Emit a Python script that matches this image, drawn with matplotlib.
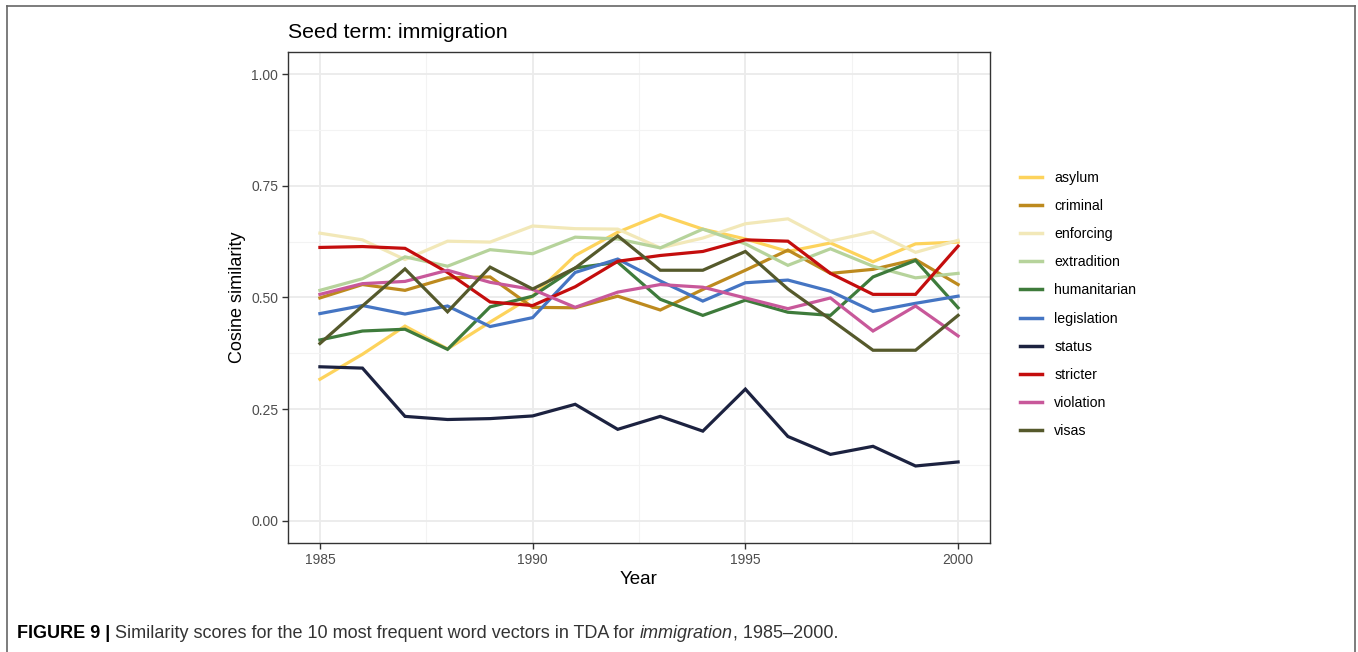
import matplotlib
matplotlib.use("Agg")
import matplotlib.pyplot as plt
from matplotlib.lines import Line2D
import numpy as np

plt.rcParams['font.family'] = ['Liberation Sans', 'DejaVu Sans']

years = list(range(1985, 2001))

asylum       = [0.317, 0.373, 0.436, 0.385, 0.445, 0.503, 0.594, 0.646, 0.685, 0.653, 0.631, 0.603, 0.622, 0.580, 0.620, 0.624]
criminal     = [0.499, 0.529, 0.516, 0.544, 0.546, 0.478, 0.477, 0.503, 0.472, 0.518, 0.561, 0.606, 0.554, 0.563, 0.585, 0.529]
enforcing    = [0.644, 0.629, 0.585, 0.626, 0.624, 0.660, 0.654, 0.653, 0.611, 0.633, 0.665, 0.676, 0.626, 0.647, 0.601, 0.628]
extradition  = [0.516, 0.542, 0.591, 0.570, 0.607, 0.598, 0.635, 0.631, 0.611, 0.653, 0.620, 0.572, 0.609, 0.570, 0.544, 0.554]
humanitarian = [0.405, 0.425, 0.429, 0.384, 0.479, 0.503, 0.566, 0.579, 0.496, 0.460, 0.494, 0.467, 0.460, 0.546, 0.583, 0.477]
legislation  = [0.464, 0.482, 0.463, 0.481, 0.435, 0.455, 0.556, 0.586, 0.537, 0.492, 0.533, 0.539, 0.514, 0.469, 0.487, 0.503]
status       = [0.345, 0.342, 0.234, 0.227, 0.229, 0.235, 0.261, 0.205, 0.234, 0.201, 0.295, 0.189, 0.149, 0.167, 0.123, 0.132]
stricter     = [0.612, 0.614, 0.610, 0.556, 0.490, 0.482, 0.524, 0.581, 0.594, 0.603, 0.629, 0.626, 0.554, 0.507, 0.507, 0.615]
violation    = [0.507, 0.531, 0.536, 0.561, 0.534, 0.518, 0.478, 0.512, 0.529, 0.523, 0.499, 0.475, 0.499, 0.425, 0.481, 0.414]
visas        = [0.397, 0.481, 0.564, 0.468, 0.568, 0.519, 0.566, 0.638, 0.561, 0.561, 0.603, 0.519, 0.451, 0.382, 0.382, 0.460]

terms = ["asylum", "criminal", "enforcing", "extradition", "humanitarian",
         "legislation", "status", "stricter", "violation", "visas"]
series = [asylum, criminal, enforcing, extradition, humanitarian,
          legislation, status, stricter, violation, visas]
colors = ["#FDD35C", "#BD8A1E", "#F2E8B8", "#B6D39B", "#3E7B3B",
          "#4575C3", "#1C2240", "#C40D0D", "#C8589A", "#55592B"]

fig = plt.figure(figsize=(13.58, 6.52), dpi=100)
W, H = 1358, 652

# outer frame around figure + caption
for xs, ys in [([7, 7], [652, 6]), ([7, 1355], [6, 6]), ([1355, 1355], [6, 652])]:
    fig.add_artist(Line2D([x / W for x in xs], [1 - y / H for y in ys],
                          color="#666666", lw=1.2, transform=fig.transFigure))

ax = fig.add_axes([288 / W, 1 - 543.3 / H, (990 - 288) / W, (543.3 - 51.7) / H])

for vals, c in zip(series, colors):
    ax.plot(years, vals, color=c, lw=2.3, solid_joinstyle="miter")

ax.set_xlim(1984.25, 2000.75)
ax.set_ylim(-0.05, 1.05)
ax.set_xticks([1985, 1990, 1995, 2000])
ax.set_yticks([0, 0.25, 0.5, 0.75, 1.0])
ax.set_yticklabels(["0.00", "0.25", "0.50", "0.75", "1.00"])
ax.set_xticks([1987.5, 1992.5, 1997.5], minor=True)
ax.set_yticks([0.125, 0.375, 0.625, 0.875], minor=True)
ax.grid(which="major", color="#EBEBEB", lw=1.3, zorder=0)
ax.grid(which="minor", color="#F3F3F3", lw=0.8, zorder=0)
ax.set_axisbelow(True)
ax.tick_params(which="major", length=4, color="#333333", width=1,
               labelsize=10, labelcolor="#4D4D4D", pad=3)
ax.tick_params(which="minor", length=0)
for s in ax.spines.values():
    s.set_color("#333333")
    s.set_linewidth(1)

ax.set_xlabel("Year", fontsize=13.5, color="black", labelpad=3)
ax.set_ylabel("Cosine similarity", fontsize=13, color="black", labelpad=4)
fig.text(288 / W, 1 - 32 / H, "Seed term: immigration", fontsize=15.3,
         va="center", ha="left")

handles = [Line2D([], [], color=c, lw=2.5) for c in colors]
fig.legend(handles, terms, loc="upper left",
           bbox_to_anchor=(1014 / W, 1 - 165 / H), frameon=False,
           fontsize=10.2, handlelength=1.6, handletextpad=0.85,
           labelspacing=1.0, borderaxespad=0)

# caption with mixed styles
renderer = fig.canvas.get_renderer()
cap_y = 1 - 633 / H
x = 17 / W
pieces = [("FIGURE 9 |", "bold", "normal"),
          (" Similarity scores for the 10 most frequent word vectors in TDA for ", "normal", "normal"),
          ("immigration", "normal", "italic"),
          (", 1985\u20132000.", "normal", "normal")]
for txt, weight, style in pieces:
    t = fig.text(x, cap_y, txt, fontsize=13, fontweight=weight, fontstyle=style,
                 color="#333333" if weight == "normal" else "black",
                 va="center", ha="left")
    bb = t.get_window_extent(renderer=renderer)
    x = bb.x1 / W

fig.savefig("out.png", dpi=100)
